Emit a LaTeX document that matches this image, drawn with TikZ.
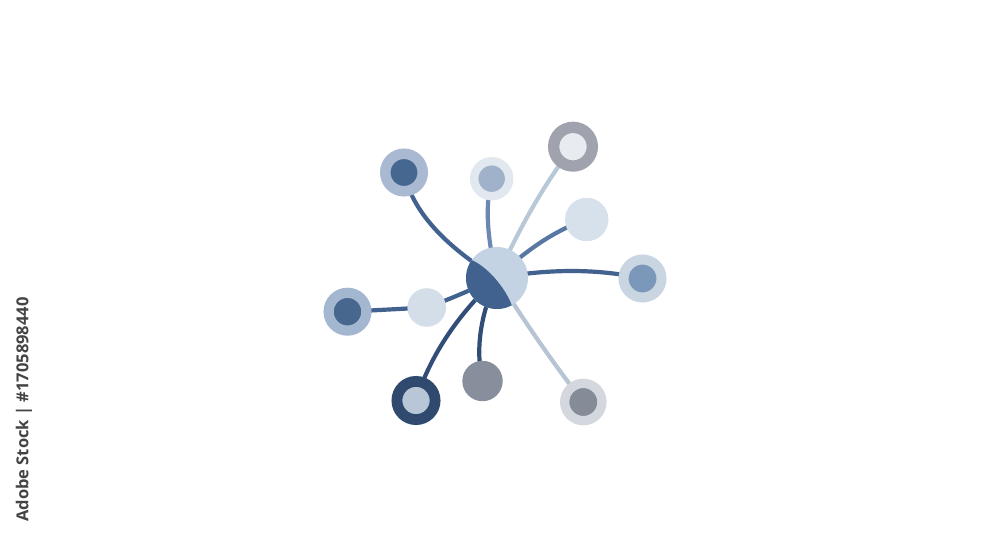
\documentclass[tikz,border=0pt]{standalone}
\usepackage{fontspec}
\newfontfamily\wmfont{Open Sans}
\usetikzlibrary{backgrounds}
\definecolor{hublight}{HTML}{C4D3E3}
\definecolor{hubdark}{HTML}{41628F}
\definecolor{aOut}{HTML}{A8B9D1}\definecolor{aIn}{HTML}{46678F}
\definecolor{bOut}{HTML}{E2E8EF}\definecolor{bIn}{HTML}{A0B1CA}
\definecolor{cOut}{HTML}{A0A3AE}\definecolor{cIn}{HTML}{E8ECF0}
\definecolor{dFill}{HTML}{D6E1EB}
\definecolor{eOut}{HTML}{CAD5E2}\definecolor{eIn}{HTML}{7B98BB}
\definecolor{fOut}{HTML}{A4B7D0}\definecolor{fIn}{HTML}{47678F}
\definecolor{gFill}{HTML}{D4DEE9}
\definecolor{hOut}{HTML}{2F4A6E}\definecolor{hIn}{HTML}{B8C6D8}
\definecolor{iFill}{HTML}{878F9C}
\definecolor{jOut}{HTML}{D4D8DE}\definecolor{jIn}{HTML}{858B97}
\definecolor{lnA}{HTML}{41618E}
\definecolor{lnB}{HTML}{6A88B0}
\definecolor{lnC}{HTML}{B9C8D7}
\definecolor{lnD}{HTML}{5878A3}
\definecolor{lnG}{HTML}{324E78}
\definecolor{lnI}{HTML}{B6C4D3}
\definecolor{wmgray}{HTML}{444444}
\begin{document}
\begin{tikzpicture}[x=1pt,y=-1pt,
  disc/.style 2 args={circle,inner sep=0pt,minimum size=#1,fill=#2,draw=none},
  ring/.style n args={4}{circle,inner sep=0pt,minimum size=#1pt+#2pt,line width=#1pt-#2pt,draw=#3,fill=#4},
  conn/.style={line width=4.2pt,draw=#1}]
\useasboundingbox (0,0) rectangle (1000,545);
% hub
\node[disc={62pt}{hublight}] (hub) at (497,278) {};
\begin{scope}
  \clip (hub.center) circle (31pt);
  \fill[hubdark] (471.7,260) .. controls (489.7,268) and (507,291) .. (512,306)
     -- (520,340) -- (440,340) -- (440,240) -- cycle;
\end{scope}
% satellites
\node[ring={24}{13.5}{aOut}{aIn}] (s1) at (404,172.5) {};
\node[ring={21.7}{13.3}{bOut}{bIn}] (s2) at (491.7,178.7) {};
\node[ring={25}{13.7}{cOut}{cIn}] (s3) at (573,146.7) {};
\node[disc={43.4pt}{dFill}] (s4) at (586.7,219.5) {};
\node[ring={24}{14}{eOut}{eIn}] (s5) at (642.5,278.5) {};
\node[ring={24}{13.8}{fOut}{fIn}] (s6) at (347.5,311.7) {};
\node[disc={38.6pt}{gFill}] (s7) at (426.7,307.5) {};
\node[ring={24.5}{13.7}{hOut}{hIn}] (s8) at (416,400.5) {};
\node[disc={40.4pt}{iFill}] (s9) at (482.5,381) {};
\node[ring={23.3}{14}{jOut}{jIn}] (s10) at (583.3,402) {};
% connectors
\begin{scope}[on background layer]
  \fill[white] (0,0) rectangle (1000,545);
  \draw[conn=lnA] (hub.center) .. controls (442.7,244.8) and (411.7,209.6) .. (s1.center);
  \draw[conn=lnB] (hub.center) .. controls (486.8,237.8) and (485.0,204.7) .. (s2.center);
  \draw[conn=lnC] (hub.center) .. controls (519.7,226.7) and (545,182.9) .. (s3.center);
  \draw[conn=lnD] (hub.center) .. controls (526.7,249.1) and (556.6,229.6) .. (s4.center);
  \draw[conn=lnA] (hub.center) .. controls (549.8,268.5) and (598.3,268.7) .. (s5.center);
  \draw[conn=lnA] (hub.center) .. controls (467.8,291.5) and (444.3,301.3) .. (s7.center);
  \draw[conn=lnA] (s7.center) -- (s6.center);
  \draw[conn=lnG] (hub.center) .. controls (456.9,315.4) and (429.9,356.3) .. (s8.center);
  \draw[conn=lnG] (hub.center) .. controls (480.1,315.3) and (475.3,349.6) .. (s9.center);
  \draw[conn=lnI] (hub.center) .. controls (525.6,323.3) and (554.3,364.7) .. (s10.center);
\end{scope}
% side text
\node[rotate=90,text=wmgray,font=\wmfont\bfseries\fontsize{16.5}{19}\selectfont,inner sep=0pt] (id) at (24,409.5) {Adobe Stock | \#1705898440};
\end{tikzpicture}
\end{document}
